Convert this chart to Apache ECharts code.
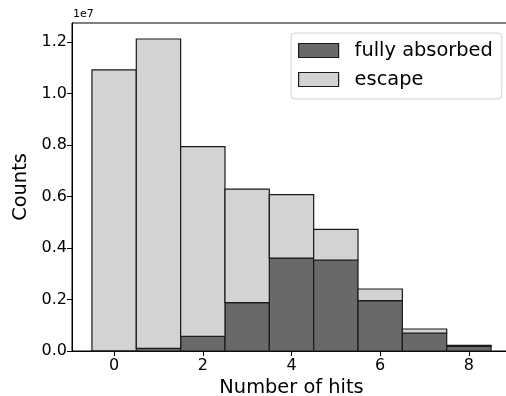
<!DOCTYPE html>
<html>
<head>
<meta charset="utf-8">
<script src="https://cdn.jsdelivr.net/npm/echarts@6/dist/echarts.min.js"></script>
<style>
  html, body { margin: 0; padding: 0; background: #fff; }
  #chart { width: 506px; height: 396px; }
</style>
</head>
<body>
<div id="chart"></div>
<script>
// Histogram of hit multiplicity, stacked by event class
const hitBins = [0, 1, 2, 3, 4, 5, 6, 7, 8];
const fullyAbsorbed = [5000, 105000, 570000, 1877000, 3610000, 3534000, 1955000, 700000, 180000];
const escape = [10910000, 12012000, 7365000, 4413000, 2460000, 1191000, 453000, 154000, 40000];
const xTicks = [0, 2, 4, 6, 8];
const yTicks = [0, 2e6, 4e6, 6e6, 8e6, 10e6, 12e6];

const FONT = 'DejaVu Sans';
const DARK = '#696969';
const LIGHT = '#d3d3d3';
const EDGE = '#1a1a1a';

// stacked rectangles, one bin wide, drawn through the axis scales
function binRenderer(lower, upper, color) {
  return function (params, api) {
    const i = params.dataIndex;
    const x = hitBins[i];
    const y0 = lower ? lower[i] : 0;
    const y1 = y0 + upper[i];
    const p0 = api.coord([x - 0.5, y0]);
    const p1 = api.coord([x + 0.5, y1]);
    return {
      type: 'rect',
      shape: { x: p0[0], y: p1[1], width: p1[0] - p0[0], height: p0[1] - p1[1] },
      style: { fill: color, stroke: EDGE, lineWidth: 1.2 }
    };
  };
}

const chart = echarts.init(document.getElementById('chart'), null, { renderer: 'canvas' });
chart.setOption({
  animation: false,
  backgroundColor: '#fff',
  grid: {
    left: 72, right: -5, top: 23, bottom: 45,
    outerBoundsMode: 'none', containLabel: false,
    show: true, borderColor: '#000', borderWidth: 1, backgroundColor: 'transparent'
  },
  xAxis: {
    type: 'value', min: -0.95, max: 8.95,
    name: 'Number of hits', nameLocation: 'middle', nameGap: 25,
    nameTextStyle: { fontFamily: FONT, fontSize: 19.4, color: '#000' },
    splitLine: { show: false },
    axisLine: { onZero: false, lineStyle: { color: '#000', width: 1 } },
    axisTick: { customValues: xTicks, length: 5, lineStyle: { color: '#000' } },
    axisLabel: { customValues: xTicks, fontFamily: FONT, fontSize: 16, color: '#000', margin: 7 }
  },
  yAxis: {
    type: 'value', min: 0, max: 12738000,
    name: 'Counts', nameLocation: 'middle', nameGap: 34, nameRotate: 90,
    nameTextStyle: { fontFamily: FONT, fontSize: 19.4, color: '#000' },
    splitLine: { show: false },
    axisLine: { show: true, onZero: false, lineStyle: { color: '#000', width: 1 } },
    axisTick: { customValues: yTicks, length: 5, lineStyle: { color: '#000' } },
    axisLabel: {
      customValues: yTicks, fontFamily: FONT, fontSize: 16, color: '#000', margin: 5,
      formatter: v => (v / 1e7).toFixed(1)
    }
  },
  legend: {
    orient: 'vertical', left: 291, top: 33,
    padding: [8, 9, 10, 7],
    itemWidth: 40, itemHeight: 14, itemGap: 10,
    borderColor: '#d0d0d0', borderWidth: 1, borderRadius: 4,
    backgroundColor: 'rgba(255,255,255,0.8)',
    textStyle: { fontFamily: FONT, fontSize: 19.4, color: '#000', padding: [0, 0, 0, 11] },
    data: [
      { name: 'fully absorbed', icon: 'rect', itemStyle: { color: DARK, borderColor: EDGE, borderWidth: 1.2 } },
      { name: 'escape', icon: 'rect', itemStyle: { color: LIGHT, borderColor: EDGE, borderWidth: 1.2 } }
    ]
  },
  graphic: [{
    type: 'text', left: 73, top: 9,
    style: { text: '1e7', fontFamily: FONT, fontSize: 11, fill: '#000' }
  }],
  series: [
    {
      name: 'fully absorbed', type: 'custom',
      itemStyle: { color: DARK },
      renderItem: binRenderer(null, fullyAbsorbed, DARK),
      data: hitBins.map((b, i) => [b, fullyAbsorbed[i]])
    },
    {
      name: 'escape', type: 'custom',
      itemStyle: { color: LIGHT },
      renderItem: binRenderer(fullyAbsorbed, escape, LIGHT),
      data: hitBins.map((b, i) => [b, fullyAbsorbed[i] + escape[i]])
    }
  ]
});
</script>
</body>
</html>
